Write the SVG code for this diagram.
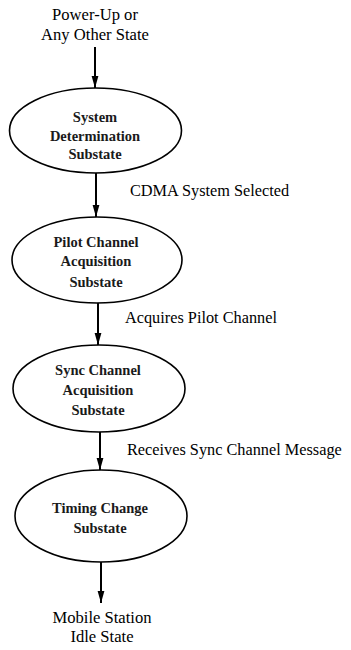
<svg xmlns="http://www.w3.org/2000/svg" width="351" height="650" viewBox="0 0 351 650">
  <style>
    .state { fill: #ffffff; stroke: #000000; stroke-width: 1.6; }
    .name { font-family: "Liberation Serif", "Times New Roman", serif; font-size: 14.5px; font-weight: bold; fill: #1a1a1a; text-anchor: middle; }
    .term { font-family: "Liberation Serif", "Times New Roman", serif; font-size: 16.6px; fill: #000000; text-anchor: middle; }
    .event { font-family: "Liberation Serif", "Times New Roman", serif; font-size: 16.3px; fill: #000000; }
    .flow { stroke: #000000; stroke-width: 2; fill: none; marker-end: url(#head); }
  </style>
  <defs>
    <marker id="head" viewBox="0 0 12 8" refX="12" refY="4" markerUnits="userSpaceOnUse" markerWidth="12" markerHeight="8" orient="auto">
      <path d="M0,0.6 L12,4 L0,7.4 Z" fill="#000000"/>
    </marker>
  </defs>
  <rect width="351" height="650" fill="#ffffff"/>

  <!-- Entry and exit conditions -->
  <g id="entry">
    <text class="term" x="95" y="20">Power-Up or</text>
    <text class="term" x="95" y="40">Any Other State</text>
  </g>
  <g id="exit">
    <text class="term" x="102" y="623">Mobile Station</text>
    <text class="term" x="102" y="642">Idle State</text>
  </g>

  <!-- Transitions -->
  <g id="connectors">
    <line class="flow" x1="95" y1="47" x2="95" y2="88"/>
    <line class="flow" x1="96" y1="173" x2="96" y2="217"/>
    <line class="flow" x1="98" y1="303" x2="98" y2="345"/>
    <line class="flow" x1="100" y1="432" x2="100" y2="470"/>
    <line class="flow" x1="101" y1="562" x2="101" y2="603"/>
    <text class="event" x="130" y="196">CDMA System Selected</text>
    <text class="event" x="125" y="323">Acquires Pilot Channel</text>
    <text class="event" x="127" y="455">Receives Sync Channel Message</text>
  </g>

  <!-- Substates -->
  <g id="system-determination">
    <ellipse class="state" cx="95.5" cy="130.5" rx="86" ry="42.5"/>
    <text class="name" x="95" y="122">System</text>
    <text class="name" x="95" y="141">Determination</text>
    <text class="name" x="95" y="159">Substate</text>
  </g>
  <g id="pilot-channel-acquisition">
    <ellipse class="state" cx="97" cy="260" rx="85" ry="43"/>
    <text class="name" x="96" y="247">Pilot Channel</text>
    <text class="name" x="96" y="266">Acquisition</text>
    <text class="name" x="96" y="287">Substate</text>
  </g>
  <g id="sync-channel-acquisition">
    <ellipse class="state" cx="99" cy="388.5" rx="86" ry="43.5"/>
    <text class="name" x="98" y="375">Sync Channel</text>
    <text class="name" x="98" y="395">Acquisition</text>
    <text class="name" x="98" y="415">Substate</text>
  </g>
  <g id="timing-change">
    <ellipse class="state" cx="101" cy="516" rx="86" ry="46"/>
    <text class="name" x="100" y="513">Timing Change</text>
    <text class="name" x="100" y="533">Substate</text>
  </g>
</svg>
